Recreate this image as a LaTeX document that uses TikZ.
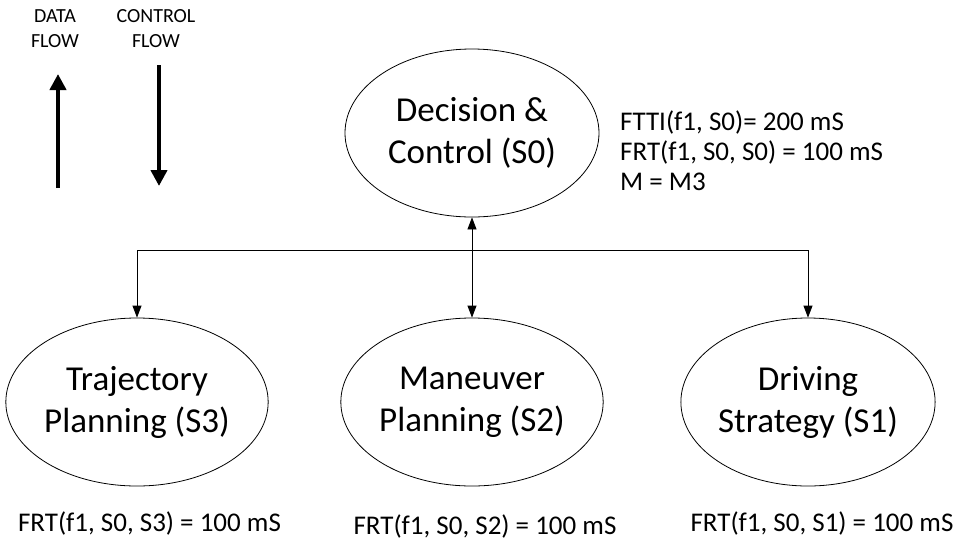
\documentclass[tikz,border=0pt]{standalone}
\usepackage{fontspec}
\setmainfont{Carlito}
\usetikzlibrary{shapes.geometric,arrows.meta}
\begin{document}
\begin{tikzpicture}[x=1pt,y=-1pt,
  task/.style={ellipse,draw,line width=0.8pt,minimum width=254pt,minimum height=168pt,
    align=center,font=\fontsize{35}{42}\selectfont,inner sep=0pt},
  note/.style={font=\fontsize{27}{30}\selectfont,inner sep=0pt},
  legend/.style={font=\fontsize{20}{25}\selectfont,align=center,inner sep=0pt},
  link/.style={line width=0.8pt,-{Triangle[length=12pt,width=9pt]}},
  flow/.style={line width=4.5pt,-{Triangle[length=16pt,width=16pt]}}]
\useasboundingbox (0,0) rectangle (954,542);

% legend (anchored on the baseline of the second line)
\node[legend,anchor=base] (ldata) at (55,47) {DATA\\FLOW};
\node[legend,anchor=base] (lctrl) at (156,47) {CONTROL\\FLOW};
\coordinate (d0) at (58,188);
\coordinate (d1) at (58,74);
\coordinate (c0) at (159,65);
\coordinate (c1) at (159,186);
\draw[flow] (d0) -- (d1);
\draw[flow] (c0) -- (c1);

% decision node
\node[task] (s0) at (472,133) {Decision \&\\Control (S0)};
\node[note,anchor=base west,align=left] (n0) at (620,190) {FTTI(f1, S0)= 200 mS\\FRT(f1, S0, S0) = 100 mS\\M = M3};

% planning nodes
\node[task] (s3) at (137,402) {Trajectory\\Planning (S3)};
\node[task] (s2) at (472,402) {Maneuver\\Planning (S2)};
\node[task] (s1) at (808,402) {Driving\\Strategy (S1)};

\node[note,anchor=base] (n3) at (149.5,531) {FRT(f1, S0, S3) = 100 mS};
\node[note,anchor=base] (n2) at (485,534) {FRT(f1, S0, S2) = 100 mS};
\node[note,anchor=base] (n1) at (822,531) {FRT(f1, S0, S1) = 100 mS};

% connectors
\coordinate (j) at (472,250);
\draw[link] (j) -- (s0.south);
\draw[link] (j) -- (s2.north);
\draw[link] (j) -| (s3.north);
\draw[link] (j) -| (s1.north);
\end{tikzpicture}
\end{document}
